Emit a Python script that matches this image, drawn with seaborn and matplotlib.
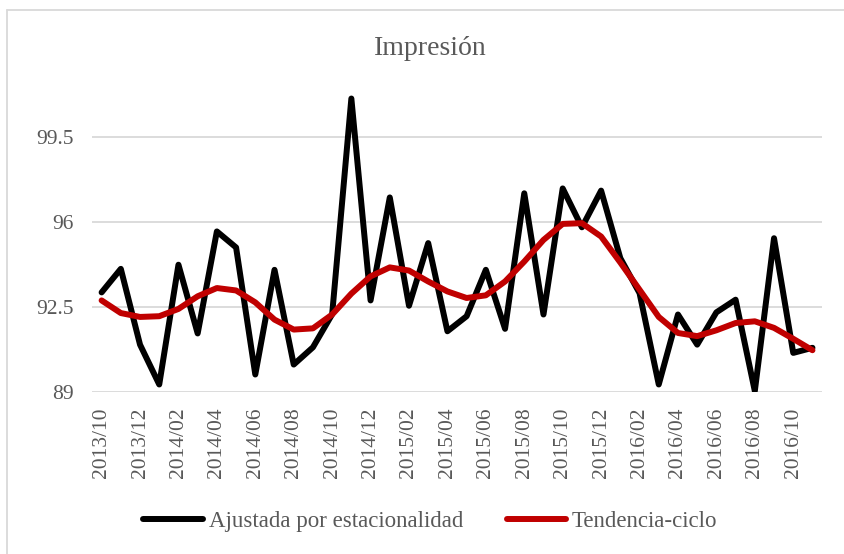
import pandas as pd
import matplotlib.pyplot as plt
import seaborn as sns
from matplotlib.lines import Line2D

# Monthly periods 2013/10 .. 2016/11
meses = ["2013/10", "2013/11", "2013/12",
         "2014/01", "2014/02", "2014/03", "2014/04", "2014/05", "2014/06",
         "2014/07", "2014/08", "2014/09", "2014/10", "2014/11", "2014/12",
         "2015/01", "2015/02", "2015/03", "2015/04", "2015/05", "2015/06",
         "2015/07", "2015/08", "2015/09", "2015/10", "2015/11", "2015/12",
         "2016/01", "2016/02", "2016/03", "2016/04", "2016/05", "2016/06",
         "2016/07", "2016/08", "2016/09", "2016/10", "2016/11"]

ajustada = [93.10, 94.07, 90.95, 89.31, 94.24, 91.41, 95.61, 94.95, 89.72,
            94.03, 90.13, 90.84, 92.20, 101.08, 92.77, 97.01, 92.55, 95.13,
            91.50, 92.12, 94.03, 91.60, 97.18, 92.19, 97.38, 95.78, 97.29,
            94.51, 93.07, 89.31, 92.19, 90.95, 92.28, 92.80, 89.04, 95.33,
            90.61, 90.82]

tendencia = [92.77, 92.25, 92.09, 92.12, 92.42, 92.94, 93.28, 93.18, 92.69,
             91.98, 91.57, 91.62, 92.19, 93.05, 93.76, 94.13, 94.00, 93.55,
             93.14, 92.87, 92.98, 93.55, 94.37, 95.26, 95.92, 95.95, 95.40,
             94.33, 93.21, 92.09, 91.43, 91.30, 91.54, 91.84, 91.91, 91.64,
             91.19, 90.72]

series = ["Ajustada por estacionalidad", "Tendencia-ciclo"]
colores = ["#000000", "#c00000"]
y_ticks = [89, 92.5, 96, 99.5]
GRIS = "#595959"


def main():
    n = len(meses)
    df = pd.DataFrame({
        "idx": list(range(n)) * 2,
        "valor": ajustada + tendencia,
        "serie": [series[0]] * n + [series[1]] * n,
    })

    sns.set_style("white")
    plt.rcParams["font.family"] = ["Liberation Serif", "DejaVu Serif"]

    fig = plt.figure(figsize=(8.44, 5.54), dpi=100)
    ax = fig.add_axes([0.109, 0.2924, 0.865, 0.592])

    sns.lineplot(data=df, x="idx", y="valor", hue="serie", hue_order=series,
                 palette=colores, linewidth=4.3, legend=False, ax=ax,
                 solid_joinstyle="round", solid_capstyle="round")

    ax.set_xlim(-0.5, n - 0.5)
    ax.set_ylim(89, 102.5)
    ax.set_yticks(y_ticks)
    ax.set_yticklabels(["89", "92.5", "96", "99.5"])
    ax.set_xticks(range(0, n, 2))
    ax.set_xticklabels(meses[::2], rotation=90)
    ax.tick_params(axis="x", length=0, pad=11, labelsize=15.5, labelcolor=GRIS)
    ax.tick_params(axis="y", length=0, pad=13, labelsize=15.5, labelcolor=GRIS)
    ax.yaxis.grid(True, color="#d9d9d9", linewidth=1.3)
    ax.set_axisbelow(True)
    for s in ax.spines.values():
        s.set_visible(False)
    ax.set_xlabel("")
    ax.set_ylabel("")

    fig.text(0.51, 0.913, "Impresión", ha="center", va="center",
             fontsize=20, color=GRIS)

    fig.legend(handles=ax.get_lines()[:2], labels=series, loc="center",
               bbox_to_anchor=(0.51, 0.058), ncol=2, frameon=False,
               fontsize=16.5, labelcolor=GRIS, handlelength=2.6,
               handletextpad=0.25, columnspacing=1.9)

    # chart-area border: only the top and left edges fall inside the image
    fig.add_artist(Line2D([0.0083, 0.0083], [0.0, 0.982], transform=fig.transFigure,
                          color="#d9d9d9", linewidth=1.3))
    fig.add_artist(Line2D([0.0083, 1.0], [0.982, 0.982], transform=fig.transFigure,
                          color="#d9d9d9", linewidth=1.3))

    fig.savefig("out.png", dpi=100)
    plt.close(fig)


if __name__ == "__main__":
    main()
